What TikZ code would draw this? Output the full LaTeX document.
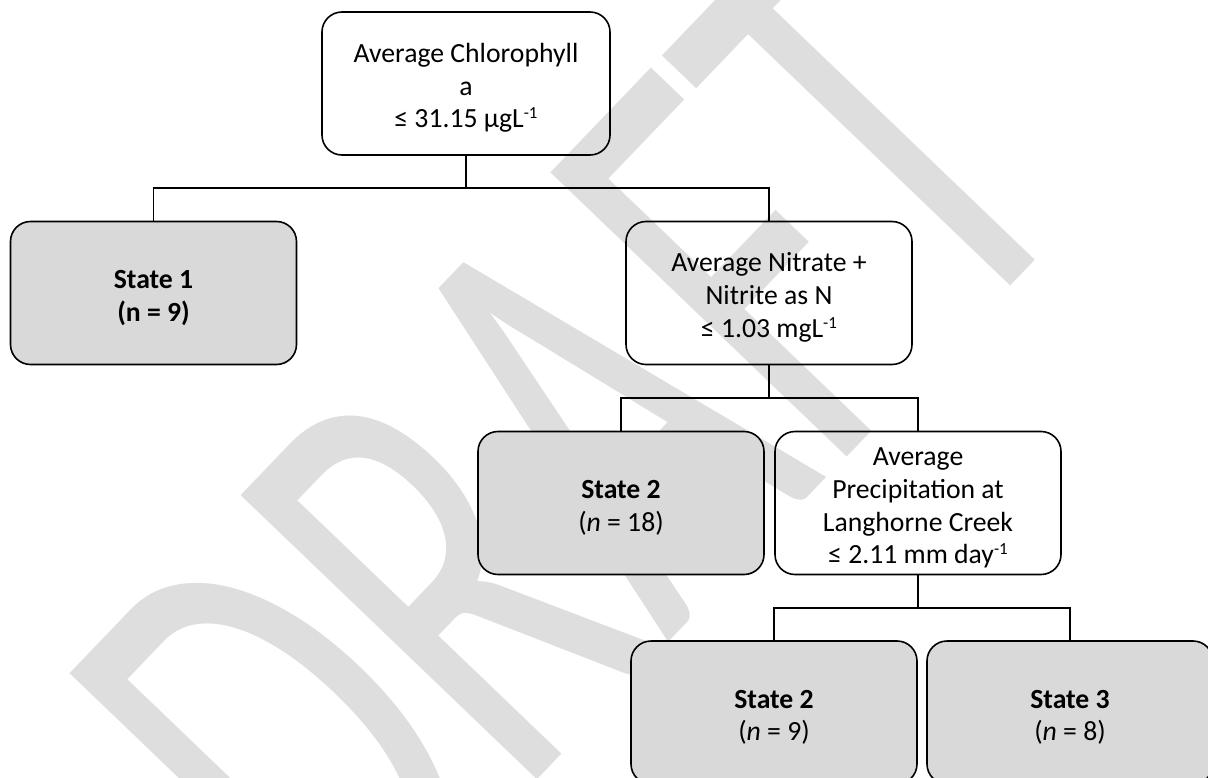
\documentclass[tikz,border=0pt]{standalone}
\usepackage{fontspec}
\setmainfont{Carlito}
\definecolor{wmgray}{RGB}{222,222,222}
\definecolor{stategray}{RGB}{217,217,217}
\newcommand\mysup[1]{\raisebox{9bp}{\fontsize{17}{17}\selectfont #1}}
\newcommand\topstrut{\rule{0pt}{28bp}}
\begin{document}
\begin{tikzpicture}[x=1bp,y=1bp,
  box/.style={draw=black, line width=1.6bp, rounded corners=20bp, minimum width=286bp,
    minimum height=143bp, inner sep=0pt, align=center,
    font=\fontsize{27.7bp}{32.7bp}\selectfont},
  splitbox/.style={box},
  statebox/.style={box, fill=stategray},
  conn/.style={draw=black, line width=1.4bp}]
\useasboundingbox (0,0) rectangle (1208,-778);
\fill[white] (0,0) rectangle (1208,-778);
% watermark
\begin{scope}[shift={(347,-978)}, rotate=46.2, yscale=1.6]
  \node[transform shape, anchor=base west, inner sep=0pt, text=wmgray] (wm) at (0,0)
    {\fontsize{400bp}{400bp}\selectfont DRAFT};
\end{scope}
% nodes
\node[splitbox, minimum width=288bp] (top) at (466,-83.5) {\topstrut Average Chlorophyll\\a\\≤ 31.15 µgL\mysup{-1}};
\node[statebox] (s1) at (153.5,-293) {\topstrut\textbf{State 1}\\\textbf{(n = 9)}};
\node[splitbox] (nit) at (769,-293) {\topstrut Average Nitrate +\\Nitrite as N\\≤ 1.03 mgL\mysup{-1}};
\node[statebox] (s2a) at (621,-503) {\topstrut\textbf{State 2}\\(\textit{n} = 18)};
\node[splitbox] (pre) at (918,-503) {\topstrut Average\\Precipitation at\\Langhorne Creek\\≤ 2.11 mm day\mysup{-1}};
\node[statebox] (s2b) at (774,-712.5) {\topstrut\textbf{State 2}\\(\textit{n} = 9)};
\node[statebox] (s3) at (1070,-712.5) {\topstrut\textbf{State 3}\\(\textit{n} = 8)};
% junctions
\coordinate (j1) at (466,-188);
\coordinate (j2) at (769,-398);
\coordinate (j3) at (918,-608);
% connectors
\draw[conn] (top.south) -- (j1);
\draw[conn] (s1.north) -- (s1.north |- j1) -- (nit.north |- j1) -- (nit.north);
\draw[conn] (nit.south) -- (j2);
\draw[conn] (s2a.north) -- (s2a.north |- j2) -- (pre.north |- j2) -- (pre.north);
\draw[conn] (pre.south) -- (j3);
\draw[conn] (s2b.north) -- (s2b.north |- j3) -- (s3.north |- j3) -- (s3.north);
\end{tikzpicture}
\end{document}
